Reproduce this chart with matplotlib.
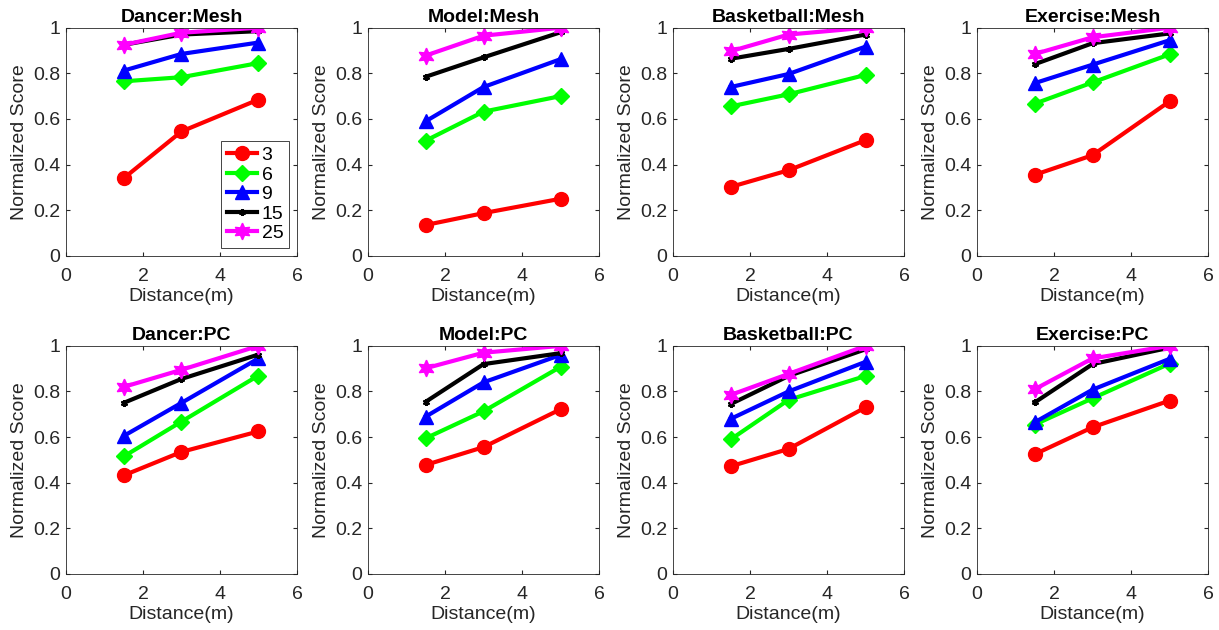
import matplotlib.pyplot as plt

plt.rcParams['font.family'] = ['Liberation Sans', 'DejaVu Sans']

distance = [1.5, 3, 5]
levels = ['3', '6', '9', '15', '25']
colors = ['#ff0000', '#00ff00', '#0000ff', '#000000', '#ff00ff']
markers = ['o', 'D', '^', (6, 2, 0), (6, 1, 0)]
msizes = [10, 8, 10, 5, 12]

titles = ['Dancer:Mesh', 'Model:Mesh', 'Basketball:Mesh', 'Exercise:Mesh',
          'Dancer:PC', 'Model:PC', 'Basketball:PC', 'Exercise:PC']

# rows: levels 3, 6, 9, 15, 25
dancer_mesh = [[0.34, 0.545, 0.685], [0.765, 0.783, 0.845], [0.812, 0.885, 0.935],
               [0.925, 0.97, 0.985], [0.925, 0.978, 1.0]]
model_mesh = [[0.135, 0.187, 0.25], [0.505, 0.632, 0.70], [0.59, 0.74, 0.862],
              [0.785, 0.87, 0.98], [0.878, 0.965, 1.0]]
basketball_mesh = [[0.302, 0.375, 0.507], [0.655, 0.708, 0.793], [0.74, 0.797, 0.917],
                   [0.864, 0.907, 0.97], [0.897, 0.97, 1.0]]
exercise_mesh = [[0.355, 0.441, 0.677], [0.667, 0.76, 0.883], [0.757, 0.838, 0.945],
                 [0.84, 0.932, 0.975], [0.885, 0.958, 1.0]]
dancer_pc = [[0.432, 0.535, 0.625], [0.515, 0.668, 0.87], [0.605, 0.75, 0.945],
             [0.75, 0.855, 0.962], [0.82, 0.895, 1.0]]
model_pc = [[0.478, 0.556, 0.722], [0.595, 0.713, 0.908], [0.69, 0.84, 0.96],
            [0.755, 0.92, 0.968], [0.902, 0.97, 1.0]]
basketball_pc = [[0.472, 0.548, 0.73], [0.59, 0.763, 0.868], [0.68, 0.8, 0.93],
                 [0.745, 0.868, 0.985], [0.785, 0.877, 1.0]]
exercise_pc = [[0.525, 0.643, 0.76], [0.655, 0.77, 0.922], [0.665, 0.808, 0.943],
               [0.752, 0.92, 0.992], [0.81, 0.945, 1.0]]

panels = [dancer_mesh, model_mesh, basketball_mesh, exercise_mesh,
          dancer_pc, model_pc, basketball_pc, exercise_pc]

fig = plt.figure(figsize=(12.19, 6.3), dpi=100)

lefts = [0.0541, 0.3019, 0.5521, 0.8015]
bottoms = [0.594, 0.089]
w, h = 0.1895, 0.362

for i, (title, data) in enumerate(zip(titles, panels)):
    ax = fig.add_axes([lefts[i % 4], bottoms[i // 4], w, h])
    for j in range(len(levels)):
        ax.plot(distance, data[j], color=colors[j], marker=markers[j],
                markersize=msizes[j], linewidth=3, label=levels[j],
                markeredgewidth=1.5 if j == 3 else 1)
    ax.set_xlim(0, 6)
    ax.set_ylim(0, 1)
    ax.set_xticks([0, 2, 4, 6])
    ax.set_yticks([0, 0.2, 0.4, 0.6, 0.8, 1.0])
    ax.set_yticklabels(['0', '0.2', '0.4', '0.6', '0.8', '1'])
    ax.tick_params(direction='in', length=3, labelsize=14, colors='#262626',
                   top=True, right=True)
    ax.tick_params(axis='x', pad=9)
    ax.tick_params(axis='y', pad=4)
    for s in ax.spines.values():
        s.set_color('#262626')
        s.set_linewidth(0.6)
    ax.set_title(title, fontsize=14, fontweight='bold', pad=4)
    ax.set_xlabel('Distance(m)', fontsize=14, color='#262626', labelpad=2)
    ax.set_ylabel('Normalized Score', fontsize=14, color='#262626', labelpad=4)
    if i == 0:
        leg = ax.legend(loc='lower right', fontsize=14, handlelength=1.55,
                        fancybox=False, framealpha=1, borderaxespad=0.4,
                        labelspacing=0.1, handletextpad=0.25, borderpad=0.3)
        leg.get_frame().set_edgecolor('#262626')
        leg.get_frame().set_linewidth(0.6)

fig.savefig('out.png', dpi=100)
